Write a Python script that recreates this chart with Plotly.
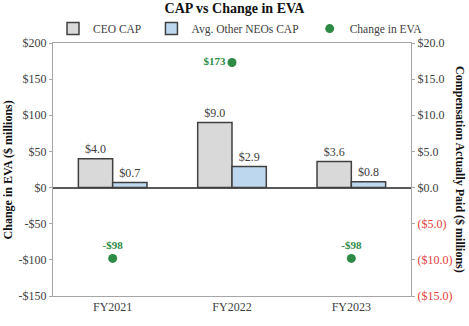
import plotly.graph_objects as go

categories = ["FY2021", "FY2022", "FY2023"]
ceo_cap = [4.0, 9.0, 3.6]
neo_cap = [0.7, 2.9, 0.8]
eva_change = [-98, 173, -98]

left_ticks = [-150, -100, -50, 0, 50, 100, 150, 200]
left_ticktext = ["-$150", "-$100", "-$50", "$0", "$50", "$100", "$150", "$200"]
right_ticks = [-15, -10, -5, 0, 5, 10, 15, 20]
right_ticktext = ['<span style="color:#e03c3c">($15.0)</span>',
                  '<span style="color:#e03c3c">($10.0)</span>',
                  '<span style="color:#e03c3c">($5.0)</span>',
                  "$0.0", "$5.0", "$10.0", "$15.0", "$20.0"]

FONT = "Liberation Serif, Times New Roman, serif"
GREEN = "#2e8b45"
DARK = "#404040"

fig = go.Figure()
fig.add_trace(go.Bar(
    x=categories, y=ceo_cap, name="CEO CAP", yaxis="y2",
    marker=dict(color="#d9d9d9", line=dict(color=DARK, width=1.5)),
    text=[f"${v:.1f}" for v in ceo_cap], textposition="outside",
    textfont=dict(family=FONT, size=12, color=DARK), cliponaxis=False,
    legend="legend",
))
fig.add_trace(go.Bar(
    x=categories, y=neo_cap, name="Avg. Other NEOs CAP", yaxis="y2",
    marker=dict(color="#bdd7ee", line=dict(color=DARK, width=1.5)),
    text=[f"${v:.1f}" for v in neo_cap], textposition="outside",
    textfont=dict(family=FONT, size=12, color=DARK), cliponaxis=False,
    legend="legend3",
))
fig.add_trace(go.Scatter(
    x=categories, y=eva_change, name="Change in EVA", yaxis="y",
    mode="markers+text",
    marker=dict(color=GREEN, size=9),
    text=[("-$" if v < 0 else "$") + f"{abs(v)}" for v in eva_change],
    textposition=["top center", "middle left", "top center"],
    textfont=dict(family=FONT, size=11, color=GREEN, weight="bold"),
    cliponaxis=False,
    legend="legend2",
))

leg_common = dict(orientation="h", y=1.057, xanchor="left", yanchor="middle",
                  itemwidth=30, font=dict(family=FONT, size=11.5, color=DARK),
                  bgcolor="rgba(0,0,0,0)")

fig.update_layout(
    width=469, height=326,
    margin=dict(l=53, r=58, t=43, b=20),
    paper_bgcolor="white", plot_bgcolor="white",
    font=dict(family=FONT, size=12, color=DARK),
    title=dict(text="<b>CAP vs Change in EVA</b>", x=0.5, xanchor="center",
               y=0.975, yanchor="middle", yref="container",
               font=dict(family=FONT, size=14, color="#111")),
    barmode="group", bargap=0.425, bargroupgap=0,
    showlegend=True,
    legend=dict(x=0.0, **leg_common),
    legend3=dict(x=0.275, **leg_common),
    legend2=dict(x=0.717, **leg_common),
    xaxis=dict(showline=True, linecolor="#a6a6a6", linewidth=1, mirror=True,
               ticks="", showgrid=False,
               tickfont=dict(family=FONT, size=12, color=DARK)),
    yaxis=dict(range=[-150, 200], tickvals=left_ticks, ticktext=left_ticktext,
               showline=True, linecolor="#a6a6a6", linewidth=1,
               ticks="outside", ticklen=3, tickcolor="#a6a6a6",
               showgrid=False, zeroline=True, zerolinecolor="#595959", zerolinewidth=2,
               tickfont=dict(family=FONT, size=12, color=DARK)),
    yaxis2=dict(range=[-15, 20], tickvals=right_ticks, ticktext=right_ticktext,
                overlaying="y", side="right",
                showline=True, linecolor="#a6a6a6", linewidth=1,
                ticks="outside", ticklen=3, tickcolor="#a6a6a6",
                showgrid=False, zeroline=False,
                tickfont=dict(family=FONT, size=12, color=DARK)),
    annotations=[
        dict(text="<b>Change in EVA ($ millions)</b>", xref="paper", yref="paper",
             x=-0.126, y=0.5, xanchor="center", yanchor="middle",
             textangle=-90, showarrow=False,
             font=dict(family=FONT, size=12, color="#111")),
        dict(text="<b>Compensation Actually Paid ($ millions)</b>", xref="paper", yref="paper",
             x=1.138, y=0.5, xanchor="center", yanchor="middle",
             textangle=90, showarrow=False,
             font=dict(family=FONT, size=12, color="#111")),
    ],
)

fig.write_html("out.html")
